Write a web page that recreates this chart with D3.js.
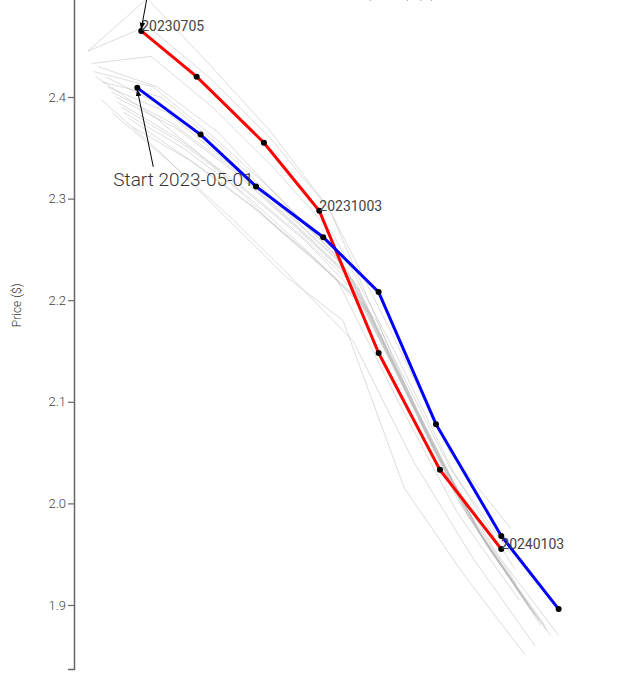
<!DOCTYPE html>
<html>
<head>
<meta charset="utf-8">
<script src="https://cdn.jsdelivr.net/npm/d3@7"></script>
<style>
  html, body { margin: 0; padding: 0; background: #fff; }
  svg { display: block; font-family: Roboto, "Noto Sans", sans-serif; }
</style>
</head>
<body>
<div id="chart"></div>
<script>
// ---------- data ----------
const yTicks = [1.9, 2.0, 2.1, 2.2, 2.3, 2.4, 2.5];

// highlighted series: start 2023-05-01 (blue)
const blueDates = ["2023-07-03","2023-08-04","2023-09-01","2023-10-05","2023-11-02","2023-12-01","2024-01-03","2024-02-01"];
const blueValues = [2.409, 2.363, 2.312, 2.262, 2.208, 2.078, 1.968, 1.896];

// highlighted series: 20230705 (red)
const redDates = ["2023-07-05","2023-08-02","2023-09-05","2023-10-03","2023-11-02","2023-12-03","2024-01-03"];
const redValues = [2.465, 2.420, 2.355, 2.288, 2.148, 2.033, 1.955];
const redLabels = ["20230705", null, null, "20231003", null, null, "20240103"];

// background curves (gray): first contract date and monthly values
const grayStarts = ["2023-06-08","2023-06-08","2023-06-10","2023-06-11","2023-06-13","2023-06-15",
                    "2023-06-17","2023-06-18","2023-06-20","2023-06-22","2023-06-23","2023-06-25",
                    "2023-06-26","2023-06-28","2023-07-01","2023-06-15","2023-06-20","2023-06-12"];
const grayValues = [
  [2.445, 2.497, 2.433, 2.367, 2.290, 2.170, 2.050, 1.975],
  [2.445, 2.470, 2.420, 2.360, 2.290, 2.150, 2.035, 1.950],
  [2.433, 2.440, 2.390, 2.330, 2.265, 2.150, 2.030, 1.935],
  [2.425, 2.410, 2.360, 2.305, 2.245, 2.130, 2.010, 1.920],
  [2.430, 2.410, 2.365, 2.300, 2.240, 2.120, 2.000, 1.910],
  [2.415, 2.400, 2.350, 2.290, 2.235, 2.115, 1.995, 1.905],
  [2.420, 2.390, 2.340, 2.285, 2.230, 2.110, 1.990, 1.900],
  [2.410, 2.385, 2.335, 2.280, 2.225, 2.100, 1.985, 1.895],
  [2.405, 2.375, 2.330, 2.275, 2.220, 2.095, 1.980, 1.890],
  [2.400, 2.370, 2.325, 2.270, 2.215, 2.090, 1.975, 1.885],
  [2.395, 2.360, 2.315, 2.265, 2.210, 2.085, 1.970, 1.880],
  [2.390, 2.355, 2.310, 2.260, 2.200, 2.075, 1.965, 1.880],
  [2.385, 2.350, 2.305, 2.250, 2.195, 2.070, 1.960, 1.875],
  [2.380, 2.340, 2.295, 2.245, 2.190, 2.060, 1.955, 1.870],
  [2.370, 2.335, 2.290, 2.240, 2.180, 2.050, 1.950, 1.870],
  [2.397, 2.345, 2.285, 2.225, 2.180, 2.015, 1.930, 1.851],
  [2.385, 2.335, 2.280, 2.220, 2.160, 2.040, 1.945, 1.860],
  [2.420, 2.380, 2.330, 2.270, 2.220, 2.100, 1.990, 1.905]
];

const startLabel = "Start 2023-05-01";
const yLabel = "Price ($)";
const titleText = "Term structure by day (price) ($)";

// ---------- drawing ----------
const W = 621, H = 677;
const parse = d3.timeParse("%Y-%m-%d");

const x = d3.scaleTime()
  .domain([parse("2023-06-01"), parse("2024-03-01")])
  .range([74, 616]);
const y = d3.scaleLinear()
  .domain([1.837, 2.55])
  .range([669, -55.4]);

const svg = d3.select("#chart").append("svg")
  .attr("width", W).attr("height", H);

svg.append("defs").append("marker")
  .attr("id", "arrow")
  .attr("viewBox", "0 0 10 10")
  .attr("refX", 9).attr("refY", 5)
  .attr("markerWidth", 7).attr("markerHeight", 7)
  .attr("orient", "auto-start-reverse")
  .append("path").attr("d", "M0,1 L10,5 L0,9 Z").attr("fill", "#000");

// title (mostly above the visible area)
svg.append("text")
  .attr("x", 436).attr("y", -3)
  .attr("text-anchor", "end")
  .attr("font-size", 16).attr("fill", "#333")
  .text(titleText);

// y axis
const yAxis = d3.axisLeft(y).tickValues(yTicks).tickFormat(d3.format(".1f")).tickSize(6).tickSizeOuter(6);
const gy = svg.append("g").attr("transform", "translate(74,0)").call(yAxis);
gy.select(".domain").attr("stroke", "#666").attr("stroke-width", 1.5);
gy.selectAll(".tick line").attr("stroke", "#666").attr("stroke-width", 1.2);
gy.selectAll(".tick text").attr("font-size", 13).attr("font-family", "Roboto, sans-serif")
  .attr("font-weight", 300).attr("fill", "#444").attr("x", -8);

svg.append("text")
  .attr("transform", `translate(21,${(y(2.2)+y(2.19))/2}) rotate(-90)`)
  .attr("text-anchor", "middle")
  .attr("font-size", 12).attr("font-weight", 300).attr("fill", "#333")
  .text(yLabel);

const line = d3.line().x(d => x(d[0])).y(d => y(d[1]));

// gray curves
const grayData = grayStarts.map((s, i) =>
  grayValues[i].map((v, k) => [d3.timeMonth.offset(parse(s), k), v]));
svg.append("g").selectAll("path").data(grayData).join("path")
  .attr("d", line)
  .attr("fill", "none")
  .attr("stroke", "#b4b4b4")
  .attr("stroke-opacity", 0.45)
  .attr("stroke-width", 1);

// highlighted curves
const blueData = blueDates.map((d, i) => [parse(d), blueValues[i]]);
const redData = redDates.map((d, i) => [parse(d), redValues[i]]);

svg.append("path").datum(redData).attr("d", line)
  .attr("fill", "none").attr("stroke", "#ff0000").attr("stroke-width", 3);
svg.append("path").datum(blueData).attr("d", line)
  .attr("fill", "none").attr("stroke", "#0000ff").attr("stroke-width", 3);

svg.append("g").selectAll("circle").data(blueData.concat(redData)).join("circle")
  .attr("cx", d => x(d[0])).attr("cy", d => y(d[1])).attr("r", 3)
  .attr("fill", "#000");

// red point labels
svg.append("g").selectAll("text").data(redData.map((d, i) => ({d, lab: redLabels[i]})).filter(o => o.lab))
  .join("text")
  .attr("x", o => x(o.d[0]))
  .attr("y", o => y(o.d[1]))
  .attr("font-size", 14).attr("fill", "#444")
  .text(o => o.lab);

// annotations
const bx = x(blueData[0][0]), by = y(blueData[0][1]);
svg.append("line")
  .attr("x1", bx + 16).attr("y1", by + 79)
  .attr("x2", bx).attr("y2", by + 2)
  .attr("stroke", "#000").attr("stroke-width", 1)
  .attr("marker-end", "url(#arrow)");
svg.append("text")
  .attr("x", bx - 24).attr("y", by + 98)
  .attr("font-size", 19).attr("font-weight", 300).attr("fill", "#333")
  .text(startLabel);

const rx = x(redData[0][0]), ry = y(redData[0][1]);
svg.append("line")
  .attr("x1", rx + 7).attr("y1", ry - 40)
  .attr("x2", rx).attr("y2", ry - 2)
  .attr("stroke", "#000").attr("stroke-width", 1)
  .attr("marker-end", "url(#arrow)");
</script>
</body>
</html>
